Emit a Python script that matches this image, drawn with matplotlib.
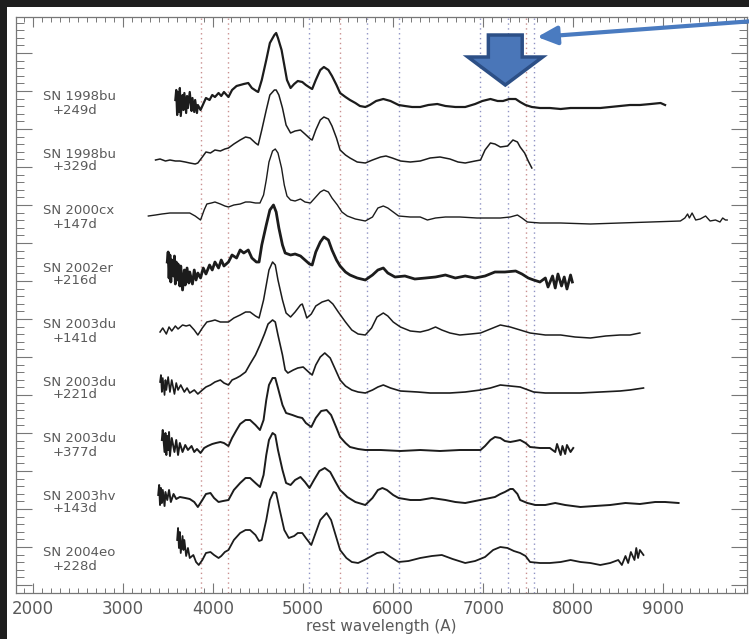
import matplotlib
matplotlib.use("Agg")
import matplotlib.pyplot as plt
from matplotlib.patches import Polygon, Rectangle
from matplotlib.ticker import MultipleLocator, NullFormatter

# Late-time spectra: (rest wavelength [A], scaled flux) pairs.
# Each spectrum is plotted with a constant vertical offset.
sn1998bu_249 = [(3580,3),(3590,13),(3600,-12),(3610,11),(3620,-9),(3630,15),(3640,-13),(3660,8),(3670,-7),
    (3680,10),(3700,-10),(3710,7),(3720,-5),(3740,11),(3760,-8),(3770,5),(3790,-9),(3800,3),(3820,-10),
    (3830,-2),(3860,-7),(3890,-1),(3920,5),(3960,3),(3990,8),(4020,6),(4060,10),(4090,7),(4120,11),(4170,6),
    (4210,13),(4260,17),(4300,18),(4340,19),(4390,20),(4430,15),(4480,12),(4500,11),(4540,23),(4590,43),
    (4630,60),(4680,68),(4700,70),(4720,65),(4760,53),(4790,38),(4820,23),(4860,15),(4900,19),(4940,22),
    (4990,21),(5030,18),(5080,15),(5100,14),(5140,23),(5190,33),(5230,36),(5280,33),(5320,27),(5370,18),
    (5410,10),(5470,6),(5520,3),(5580,0),(5630,-3),(5690,-4),(5740,-2),(5810,2),(5890,4),(5970,2),(6060,-2),
    (6130,-3),(6210,-4),(6300,-4),(6390,-2),(6490,-1),(6580,-3),(6690,-4),(6800,-4),(6910,-1),(6990,2),
    (7080,4),(7160,2),(7220,2),(7290,4),(7360,4),(7410,1),(7470,-2),(7540,-4),(7630,-5),(7740,-5),(7860,-6),
    (7970,-5),(8080,-5),(8190,-5),(8300,-5),(8410,-4),(8520,-3),(8630,-2),(8740,-2),(8860,-1),(8970,0),(9020,-2)]

sn1998bu_329 = [(3360,0),(3410,1),(3470,-1),(3520,0),(3580,-1),(3630,-1),(3690,-2),(3740,-3),(3800,-4),
    (3830,-3),(3880,3),(3920,8),(3970,7),(4020,10),(4080,9),(4130,11),(4170,12),(4230,16),(4300,20),(4360,23),
    (4410,22),(4470,17),(4500,15),(4540,30),(4590,50),(4630,65),(4680,70),(4700,70),(4730,65),(4770,52),
    (4810,35),(4860,27),(4910,29),(4970,30),(5020,26),(5080,21),(5100,20),(5140,30),(5190,40),(5230,43),
    (5280,41),(5320,34),(5370,22),(5410,10),(5470,5),(5520,2),(5600,-2),(5690,-3),(5770,0),(5860,3),(5920,4),
    (5990,2),(6080,-1),(6190,-2),(6300,-1),(6410,2),(6520,3),(6630,1),(6720,-2),(6800,-3),(6910,-1),(6970,0),
    (7020,10),(7080,17),(7130,16),(7190,13),(7270,14),(7330,20),(7380,18),(7410,13),(7460,7),(7500,-1),(7540,-8)]

sn2000cx_147 = [(3280,1),(3360,2),(3430,3),(3520,4),(3630,4),(3740,4),(3800,1),(3860,-3),(3900,7),(3930,13),
    (3980,14),(4020,15),(4080,13),(4130,11),(4170,10),(4230,12),(4300,13),(4360,15),(4410,15),(4470,14),
    (4520,14),(4560,22),(4590,37),(4620,55),(4660,66),(4690,68),(4720,64),(4760,49),(4790,32),(4820,21),
    (4860,17),(4910,16),(4970,18),(5020,15),(5080,14),(5130,19),(5190,25),(5230,27),(5280,25),(5320,19),
    (5380,12),(5430,5),(5490,1),(5580,-2),(5690,-4),(5770,0),(5830,9),(5890,11),(5940,9),(6000,5),(6060,1),
    (6190,0),(6300,0),(6380,-3),(6470,-1),(6580,0),(6740,0),(6930,-1),(7080,-1),(7190,-1),(7300,0),(7380,2),
    (7430,-1),(7490,-5),(7630,-6),(7860,-6),(8190,-7),(8520,-6),(8860,-5),(9190,-4),(9240,-1),(9270,3),
    (9290,-1),(9320,4),(9360,-3),(9410,-2),(9470,1),(9520,-4),(9580,-3),(9630,-5),(9660,-1),(9690,-3),(9710,-3)]

sn2002er_216 = [(3490,12),(3500,22),(3510,-4),(3520,19),(3530,-8),(3540,14),(3560,-2),(3570,18),(3580,-10),
    (3590,12),(3600,-6),(3610,10),(3630,-12),(3640,8),(3660,-16),(3680,4),(3690,-11),(3710,6),(3730,-9),
    (3740,2),(3770,-10),(3790,4),(3810,-6),(3830,1),(3860,-4),(3890,6),(3920,0),(3960,9),(3990,4),(4020,12),
    (4060,6),(4090,14),(4120,8),(4170,12),(4210,19),(4260,16),(4300,24),(4340,21),(4390,24),(4430,16),
    (4480,12),(4510,12),(4540,29),(4590,49),(4630,64),(4670,69),(4700,62),(4730,46),(4770,29),(4800,21),
    (4860,19),(4910,20),(4970,18),(5020,14),(5070,10),(5100,9),(5140,22),(5190,32),(5230,37),(5280,34),
    (5320,24),(5370,14),(5410,8),(5470,2),(5520,-1),(5600,-4),(5690,-6),(5770,-1),(5830,4),(5890,6),(5940,1),
    (6020,-3),(6130,-2),(6240,-5),(6360,-4),(6470,-3),(6580,-1),(6690,-4),(6800,-2),(6910,-4),(7020,-2),
    (7130,2),(7240,2),(7360,3),(7430,0),(7500,-4),(7560,-6),(7630,-8),(7690,-4),(7720,-13),(7770,-2),
    (7800,-14),(7830,0),(7870,-12),(7900,-3),(7930,-15),(7970,-1),(7990,-8)]

sn2003du_141 = [(3410,-1),(3440,3),(3480,-3),(3510,4),(3540,0),(3580,5),(3610,2),(3660,6),(3700,5),(3740,6),
    (3790,1),(3830,-4),(3880,3),(3930,9),(3980,10),(4020,11),(4080,9),(4130,9),(4170,9),(4230,13),(4300,16),
    (4360,19),(4410,19),(4470,15),(4510,13),(4560,31),(4590,46),(4620,61),(4660,69),(4690,66),(4720,51),
    (4770,31),(4810,18),(4860,14),(4910,19),(4970,26),(4990,27),(5020,19),(5040,13),(5090,17),(5140,25),
    (5210,29),(5280,31),(5330,27),(5390,19),(5470,9),(5540,1),(5610,-3),(5690,-4),(5760,3),(5820,14),
    (5890,18),(5940,15),(6000,9),(6080,4),(6190,0),(6300,-1),(6390,1),(6470,4),(6540,1),(6630,-2),(6740,-4),
    (6860,-3),(6970,-2),(7080,2),(7190,6),(7300,4),(7410,1),(7520,-2),(7690,-4),(7860,-4),(8020,-6),(8190,-7),
    (8360,-5),(8520,-4),(8630,-4),(8740,-2)]

sn2003du_221 = [(3410,6),(3420,13),(3430,-4),(3440,10),(3460,-7),(3470,8),(3480,-2),(3500,11),(3520,-4),
    (3540,8),(3570,-6),(3590,5),(3610,-2),(3640,3),(3680,-4),(3710,0),(3740,-5),(3790,-2),(3830,-6),(3880,-2),
    (3920,1),(3970,3),(4020,6),(4080,8),(4120,5),(4170,3),(4210,8),(4260,10),(4300,12),(4360,16),(4410,24),
    (4470,33),(4520,43),(4570,54),(4610,64),(4660,68),(4690,66),(4720,53),(4770,33),(4800,18),(4830,15),
    (4890,18),(4940,20),(5000,21),(5060,16),(5100,13),(5140,23),(5190,31),(5240,35),(5300,30),(5360,18),
    (5410,8),(5470,2),(5540,-2),(5610,-4),(5690,-5),(5770,-2),(5830,1),(5890,3),(5970,0),(6080,-3),(6270,-4),
    (6410,-5),(6630,-5),(6800,-4),(6970,-2),(7080,0),(7190,3),(7300,2),(7410,1),(7560,-4),(7690,-5),(7860,-5),
    (8080,-5),(8300,-4),(8520,-3),(8630,-2),(8780,0)]

sn2003du_377 = [(3430,5),(3440,15),(3460,-7),(3470,12),(3480,-10),(3490,9),(3500,-5),(3510,13),(3520,-11),
    (3540,7),(3570,-7),(3590,5),(3610,-10),(3630,2),(3660,-7),(3690,0),(3720,-5),(3760,-1),(3790,-7),
    (3820,-4),(3860,-8),(3900,-3),(3940,-1),(3990,1),(4030,2),(4080,3),(4120,2),(4170,-1),(4210,7),(4260,15),
    (4300,21),(4360,25),(4410,25),(4470,20),(4520,15),(4560,25),(4590,45),(4620,60),(4660,67),(4690,67),
    (4720,57),(4770,40),(4810,32),(4880,30),(4940,28),(4990,27),(5030,22),(5090,18),(5140,27),(5200,34),
    (5260,35),(5310,30),(5370,17),(5410,8),(5470,2),(5520,-2),(5610,-4),(5690,-5),(5860,-5),(6080,-6),
    (6300,-5),(6520,-6),(6740,-5),(6970,-5),(7020,-1),(7080,5),(7130,8),(7190,7),(7240,4),(7300,3),(7360,4),
    (7410,5),(7470,2),(7520,-2),(7630,-3),(7740,-3),(7800,-7),(7820,1),(7860,-10),(7880,-1),(7910,-9),
    (7930,0),(7970,-7),(8000,-3)]

sn2003hv_143 = [(3390,7),(3400,17),(3410,-3),(3420,14),(3430,-1),(3440,12),(3460,-4),(3470,10),(3490,2),
    (3510,12),(3530,0),(3560,8),(3590,3),(3630,5),(3690,4),(3740,3),(3790,0),(3830,-5),(3880,2),(3920,8),
    (3970,9),(4010,4),(4060,0),(4110,1),(4170,2),(4230,12),(4300,19),(4360,24),(4410,24),(4470,19),(4520,15),
    (4560,27),(4590,47),(4620,62),(4660,69),(4690,67),(4720,52),(4770,32),(4810,19),(4860,17),(4910,22),
    (4970,25),(5020,20),(5070,14),(5120,22),(5180,31),(5240,34),(5300,30),(5360,20),(5410,12),(5490,5),
    (5580,0),(5690,-3),(5770,4),(5830,12),(5880,14),(5930,12),(6000,7),(6060,4),(6190,2),(6300,2),(6430,4),
    (6580,2),(6690,0),(6800,-1),(6910,1),(7020,3),(7130,5),(7190,8),(7240,10),(7300,13),(7330,13),(7380,8),
    (7410,2),(7490,-1),(7580,-3),(7690,-3),(7800,-1),(7910,-3),(8080,-5),(8240,-4),(8410,-3),(8580,-1),
    (8740,-2),(8910,0),(9020,0),(9170,-1)]

sn2004eo_228 = [(3600,19),(3610,31),(3620,11),(3630,27),(3640,6),(3660,23),(3670,9),(3680,19),(3700,3),
    (3720,11),(3740,1),(3780,4),(3810,-3),(3840,-6),(3880,-1),(3920,6),(3970,7),(4010,4),(4060,1),(4090,3),
    (4130,7),(4170,9),(4230,19),(4300,26),(4360,29),(4410,29),(4470,24),(4510,18),(4540,19),(4590,39),
    (4630,59),(4670,67),(4700,66),(4740,49),(4790,29),(4840,21),(4900,23),(4940,26),(4990,26),(5030,21),
    (5090,14),(5130,24),(5190,39),(5260,46),(5310,39),(5370,21),(5410,9),(5480,1),(5540,-3),(5610,-4),
    (5680,-1),(5740,2),(5820,6),(5890,7),(5970,2),(6060,-3),(6170,-2),(6300,1),(6430,3),(6540,4),(6660,0),
    (6800,-4),(6910,-2),(7020,2),(7110,9),(7190,12),(7270,11),(7340,8),(7410,6),(7470,3),(7520,-3),(7630,-4),
    (7740,-4),(7860,-3),(7970,-1),(8080,-3),(8190,-4),(8300,-6),(8410,-4),(8500,-1),(8540,-6),(8580,3),
    (8610,-4),(8640,7),(8680,-1),(8700,11),(8720,1),(8740,9),(8780,4)]

spectra = [sn1998bu_249, sn1998bu_329, sn2000cx_147, sn2002er_216, sn2003du_141,
           sn2003du_221, sn2003du_377, sn2003hv_143, sn2004eo_228]
names = ["SN 1998bu", "SN 1998bu", "SN 2000cx", "SN 2002er", "SN 2003du",
         "SN 2003du", "SN 2003du", "SN 2003hv", "SN 2004eo"]
epochs = ["+249d", "+329d", "+147d", "+216d", "+141d", "+221d", "+377d", "+143d", "+228d"]

# marker wavelengths of emission features
lines_red = [3860, 4170, 5410, 7470]
lines_blue = [5060, 5710, 6060, 6960, 7270, 7560]

# ---- layout / style ----
top_offset, step = 490, 57
widths = [1.6, 1.1, 1.0, 2.0, 1.1, 1.2, 1.4, 1.4, 1.3]
grey_txt = "#5a5a5a"

fig = plt.figure(figsize=(7.49, 6.39), dpi=100, facecolor="#1e1e1e")
fig.patches.append(Rectangle((7 / 749, 0), 1, 1 - 7 / 639, transform=fig.transFigure,
                             facecolor="white", edgecolor="none", zorder=-1))
ax = fig.add_axes([16 / 749, 1 - 593 / 639, 731 / 749, 576 / 639])
ax.set_xlim(1810, 9930)
ax.set_ylim(0, 576)

for w in lines_red:
    ax.axvline(w, color="#c98f8f", lw=1.0, ls=(0, (1, 2.5)), zorder=1)
for w in lines_blue:
    ax.axvline(w, color="#8f93c4", lw=1.0, ls=(0, (1, 2.5)), zorder=1)

for i, (spec, name, ep) in enumerate(zip(spectra, names, epochs)):
    off = top_offset - step * i
    wave, flux = zip(*spec)
    ax.plot(wave, [off + f for f in flux], color="#1c1c1c", lw=widths[i],
            solid_joinstyle="round", zorder=3)
    ax.text(2110, off + 6, name, fontsize=9.5, color=grey_txt, ha="left", va="center")
    ax.text(2220, off - 7, ep, fontsize=9.5, color=grey_txt, ha="left", va="center")

# block arrow above the Ca II / [Fe II] region
cx, bw, hw = 7245, 188, 415
y_top, y_mid, y_tip = 558, 536, 508
arrow = Polygon([(cx - bw, y_top), (cx + bw, y_top), (cx + bw, y_mid), (cx + hw, y_mid),
                 (cx, y_tip), (cx - hw, y_mid), (cx - bw, y_mid)], closed=True,
                facecolor="#4a76b8", edgecolor="#2c4f86", lw=2.5, zorder=5, clip_on=False)
ax.add_patch(arrow)

ax.annotate("", xy=(7600, 556), xytext=(10010, 572), annotation_clip=False,
            arrowprops=dict(arrowstyle="-|>,head_length=0.6,head_width=0.28", mutation_scale=20,
                            lw=3, color="#4a7bc0", shrinkA=0, shrinkB=0), zorder=6)

# axes styling
for sp in ax.spines.values():
    sp.set_color("#777777")
    sp.set_linewidth(0.9)
ax.xaxis.set_major_locator(MultipleLocator(1000))
ax.xaxis.set_minor_locator(MultipleLocator(100))
ax.yaxis.set_major_locator(MultipleLocator(38, offset=8))
ax.yaxis.set_minor_locator(MultipleLocator(7.6, offset=0.4))
ax.yaxis.set_major_formatter(NullFormatter())
ax.tick_params(axis="both", which="both", direction="in", top=True, right=True, color="#777777")
ax.tick_params(axis="x", which="major", length=7.2, width=0.8, labelsize=12,
               labelcolor=grey_txt, pad=5)
ax.tick_params(axis="x", which="minor", length=3.6, width=0.7)
ax.tick_params(axis="y", which="major", length=11.5, width=0.8)
ax.tick_params(axis="y", which="minor", length=5.8, width=0.7)
ax.set_xlabel("rest wavelength (A)", fontsize=11, color=grey_txt, labelpad=1)

fig.savefig("out.png", dpi=100, facecolor=fig.get_facecolor())
